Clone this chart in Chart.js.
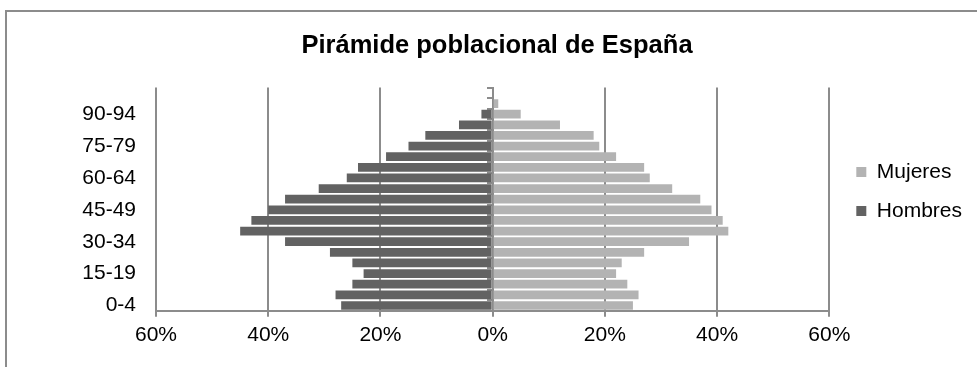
<!DOCTYPE html>
<html>
<head>
<meta charset="utf-8">
<script src="https://cdn.jsdelivr.net/npm/chart.js@4/dist/chart.umd.min.js"></script>
<style>
    html, body { margin: 0; padding: 0; background: #fff; overflow: hidden; }
    #frame { position: absolute; left: 5px; top: 10px; width: 1100px; height: 500px; border: 2px solid #8c8c8c; }
    #pyramid { position: absolute; left: 0; top: 0; }
</style>
</head>
<body>
<div id="frame"></div>
<canvas id="pyramid" width="977" height="367"></canvas>
<script>
// Age groups, bottom to top
const ageGroups = ['0-4', '5-9', '10-14', '15-19', '20-24', '25-29', '30-34', '35-39', '40-44', '45-49',
    '50-54', '55-59', '60-64', '65-69', '70-74', '75-79', '80-84', '85-89', '90-94', '95-99', '100+'];

// Percent values
const mujeres = [25, 26, 24, 22, 23, 27, 35, 42, 41, 39, 37, 32, 28, 27, 22, 19, 18, 12, 5, 1, 0];
const hombres = [27, 28, 25, 23, 25, 29, 37, 45, 43, 40, 37, 31, 26, 24, 19, 15, 12, 6, 2, 0, 0];

const xTicks = [-60, -40, -20, 0, 20, 40, 60];

const axisGray = '#8c8c8c';
const font = 'Liberation Sans, Arial, sans-serif';

const ctx = document.getElementById('pyramid').getContext('2d');

new Chart(ctx, {
    type: 'bar',
    data: {
        labels: ageGroups,
        datasets: [
            {
                label: 'Mujeres',
                data: mujeres,
                backgroundColor: '#b3b3b3',
                borderWidth: 0,
                barPercentage: 0.82,
                categoryPercentage: 1
            },
            {
                label: 'Hombres',
                data: hombres.map(v => -v), // men drawn to the left
                backgroundColor: '#626262',
                borderWidth: 0,
                barPercentage: 0.82,
                categoryPercentage: 1
            }
        ]
    },
    options: {
        indexAxis: 'y',
        responsive: false,
        animation: false,
        devicePixelRatio: 1,
        layout: {
            padding: { left: 22, right: 5, top: 29, bottom: 13 }
        },
        plugins: {
            title: {
                display: true,
                text: 'Pirámide poblacional de España',
                color: '#000',
                font: { family: font, size: 25.5, weight: 'bold' },
                padding: { top: 2, bottom: 26 }
            },
            legend: {
                position: 'right',
                maxWidth: 140,
                labels: {
                    color: '#000',
                    boxWidth: 10,
                    boxHeight: 10,
                    padding: 18,
                    font: { family: font, size: 21 }
                }
            },
            tooltip: { enabled: false }
        },
        scales: {
            y: {
                stacked: true,
                reverse: true,
                afterFit: (s) => { s.width = 134; },
                grid: { display: false, drawTicks: false },
                border: { display: false },
                ticks: {
                    autoSkip: false,
                    color: '#000',
                    padding: 20,
                    font: { family: font, size: 21 },
                    callback: (v, i) => (i % 3 === 0 ? ageGroups[i] : '')
                }
            },
            x: {
                stacked: true,
                min: -60,
                max: 60,
                afterBuildTicks: (s) => { s.ticks = xTicks.map(v => ({ value: v })); },
                grid: { color: axisGray, lineWidth: 2, tickLength: 6 },
                border: { color: axisGray, width: 2 },
                ticks: {
                    color: '#000',
                    padding: 6,
                    font: { family: font, size: 21 },
                    callback: (v) => Math.abs(v) + '%'
                }
            },
            // centre axis with the small category ticks
            yMid: {
                type: 'category',
                axis: 'y',
                reverse: true,
                position: { x: 0 },
                offset: true,
                grid: { offset: true, drawOnChartArea: false, drawTicks: true, tickLength: 5, color: axisGray, lineWidth: 2 },
                border: { display: true, color: axisGray, width: 2 },
                ticks: { display: false }
            },
            // empty gap between plot and legend
            gap: {
                type: 'linear',
                axis: 'y',
                position: 'right',
                grid: { display: false, drawTicks: false },
                border: { display: false },
                ticks: { display: false },
                afterFit: (s) => { s.width = 9; }
            }
        }
    }
});
</script>
</body>
</html>
